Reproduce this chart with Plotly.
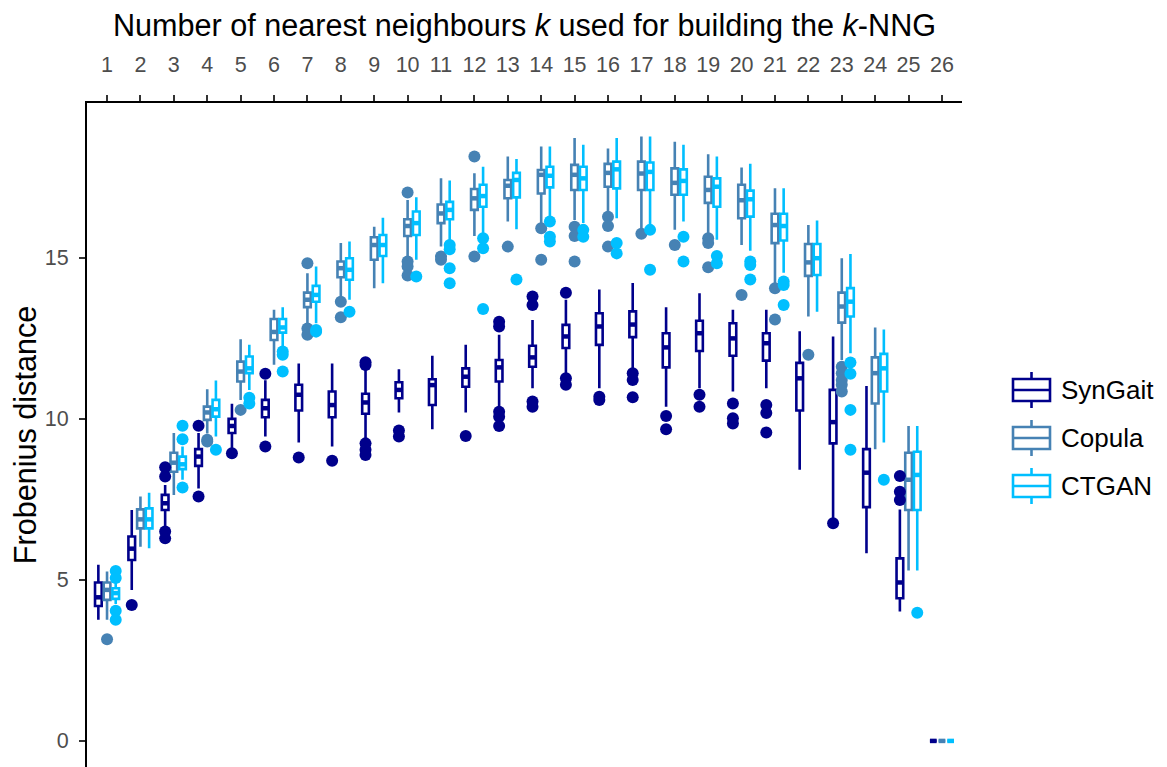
import plotly.graph_objects as go

ks = list(range(1, 27))
series = ["SynGait", "Copula", "CTGAN"]
colors = {"SynGait": "#00008B", "Copula": "#4682B4", "CTGAN": "#00BFFF"}

# SynGait box statistics per k
syn_lo  = [3.76, 4.69, 6.66, 7.84, 9.09, 9.45, 9.27, 9.14, 9.40, 10.20, 9.68, 10.20, 10.33, 10.95, 11.32, 10.95, 11.52, 10.38, 10.95, 10.85, 10.95, 8.42, 6.92, 5.83, 4.02, 0]
syn_q1  = [4.19, 5.62, 7.17, 8.54, 9.56, 10.05, 10.26, 10.05, 10.16, 10.64, 10.43, 11.00, 11.16, 11.62, 12.20, 12.30, 12.54, 11.60, 12.11, 11.96, 11.81, 10.26, 9.24, 7.26, 4.43, 0]
syn_med = [4.46, 5.97, 7.38, 8.83, 9.78, 10.33, 10.75, 10.43, 10.51, 10.90, 11.05, 11.31, 11.60, 11.91, 12.56, 12.87, 12.93, 12.22, 12.66, 12.50, 12.35, 11.26, 9.90, 8.33, 4.92, 0]
syn_q3  = [4.92, 6.35, 7.64, 9.06, 10.00, 10.59, 11.06, 10.85, 10.78, 11.14, 11.23, 11.57, 11.83, 12.27, 12.92, 13.28, 13.34, 12.66, 13.05, 12.97, 12.66, 11.74, 10.90, 9.06, 5.67, 0]
syn_hi  = [5.47, 7.17, 7.95, 9.56, 10.47, 11.20, 11.72, 11.72, 11.52, 11.54, 11.96, 12.30, 12.61, 13.07, 13.70, 14.02, 14.22, 13.47, 13.90, 13.39, 13.39, 12.72, 12.56, 11.02, 7.19, 0]
syn_out_k = [2, 3, 3, 3, 3, 4, 4, 5, 6, 6, 7, 8, 9, 9, 9, 9, 9, 10, 10, 12, 13, 13, 13, 13, 13, 14, 14, 14, 14, 15, 15, 15, 16, 16, 17, 17, 17, 18, 18, 19, 19, 20, 20, 20, 21, 21, 21, 23, 25, 25, 25]
syn_out_v = [4.22, 8.50, 8.21, 6.50, 6.29, 9.79, 7.59, 8.93, 11.40, 9.14, 8.80, 8.70, 11.76, 11.67, 9.24, 9.04, 8.88, 9.64, 9.45, 9.47, 13.02, 12.87, 10.22, 10.07, 9.78, 13.80, 13.54, 10.54, 10.38, 13.92, 11.26, 11.06, 10.69, 10.59, 11.42, 11.21, 10.67, 10.09, 9.68, 10.75, 10.38, 10.48, 10.02, 9.86, 10.43, 10.18, 9.58, 6.76, 8.23, 7.74, 7.48]

# Copula box statistics per k
cop_lo  = [3.76, 6.03, 7.64, 9.55, 10.59, 11.68, 12.97, 13.80, 14.06, 15.04, 15.35, 15.68, 16.13, 16.08, 16.18, 16.38, 15.87, 15.87, 15.66, 15.40, 14.21, 13.18, 11.83, 9.06, 5.29, 0]
cop_q1  = [4.38, 6.60, 8.36, 9.97, 11.16, 12.45, 13.47, 14.40, 14.94, 15.68, 16.08, 16.49, 16.85, 17.00, 17.11, 17.21, 17.11, 16.96, 16.71, 16.23, 15.46, 14.44, 12.99, 10.48, 7.17, 0]
cop_med = [4.69, 6.88, 8.64, 10.20, 11.47, 12.70, 13.70, 14.68, 15.40, 15.99, 16.38, 16.85, 17.24, 17.58, 17.58, 17.64, 17.62, 17.33, 17.11, 16.79, 16.02, 14.86, 13.49, 11.42, 8.11, 0]
cop_q3  = [4.92, 7.19, 8.95, 10.38, 11.78, 13.10, 13.92, 14.89, 15.64, 16.20, 16.66, 17.14, 17.42, 17.73, 17.89, 17.92, 17.99, 17.78, 17.52, 17.27, 16.37, 15.43, 13.92, 11.91, 8.95, 0]
cop_hi  = [5.26, 7.59, 9.56, 10.92, 12.47, 13.39, 14.52, 15.46, 15.97, 16.80, 17.47, 17.63, 18.15, 18.46, 18.72, 18.40, 18.77, 18.61, 18.22, 17.81, 17.16, 16.02, 14.99, 12.84, 9.78, 0]
cop_out_k = [1, 4, 4, 5, 7, 7, 7, 8, 8, 10, 10, 10, 10, 11, 11, 12, 12, 13, 14, 14, 15, 15, 15, 16, 16, 16, 17, 18, 19, 19, 19, 20, 21, 21, 22, 23, 23, 23, 23, 23]
cop_out_v = [3.16, 9.35, 9.30, 10.28, 14.83, 12.81, 12.61, 13.64, 13.16, 17.03, 14.89, 14.73, 14.45, 15.04, 14.94, 18.15, 15.04, 15.35, 15.92, 14.94, 15.97, 15.68, 14.89, 16.28, 15.99, 15.35, 15.75, 15.40, 15.61, 15.46, 14.71, 13.85, 14.06, 13.09, 11.99, 11.62, 11.42, 11.21, 11.06, 10.85]

# CTGAN box statistics per k
ctg_lo  = [4.25, 5.98, 8.11, 9.45, 10.90, 12.25, 12.97, 13.70, 14.21, 14.94, 15.51, 15.77, 15.89, 16.28, 16.08, 16.23, 16.02, 16.13, 15.56, 15.22, 14.54, 13.33, 12.04, 9.27, 5.29, 0]
ctg_q1  = [4.41, 6.60, 8.44, 10.07, 11.42, 12.68, 13.64, 14.32, 15.06, 15.71, 16.20, 16.59, 16.88, 17.19, 17.11, 17.16, 17.11, 16.96, 16.59, 16.28, 15.54, 14.47, 13.18, 10.85, 7.17, 0]
ctg_med = [4.59, 6.88, 8.59, 10.30, 11.57, 12.84, 13.85, 14.63, 15.40, 16.08, 16.49, 16.92, 17.42, 17.55, 17.47, 17.75, 17.67, 17.39, 17.21, 16.82, 15.99, 14.99, 13.64, 11.57, 8.26, 0]
ctg_q3  = [4.74, 7.22, 8.83, 10.59, 11.94, 13.10, 14.13, 14.99, 15.71, 16.44, 16.74, 17.27, 17.64, 17.83, 17.83, 17.99, 17.96, 17.75, 17.47, 17.09, 16.37, 15.43, 14.06, 12.02, 8.98, 0]
ctg_hi  = [4.95, 7.71, 9.14, 11.19, 12.30, 13.47, 14.73, 15.51, 16.25, 16.88, 17.40, 17.83, 18.07, 18.46, 18.51, 18.72, 18.77, 18.51, 18.15, 17.92, 17.16, 16.16, 15.12, 12.78, 9.78, 0]
ctg_out_k = [1, 1, 1, 1, 3, 3, 3, 4, 5, 5, 6, 6, 6, 7, 7, 8, 10, 11, 11, 11, 11, 12, 12, 12, 13, 14, 14, 14, 15, 15, 16, 16, 17, 17, 18, 18, 19, 19, 20, 20, 20, 21, 21, 21, 23, 23, 23, 23, 24, 25]
ctg_out_v = [5.28, 5.06, 4.04, 3.76, 9.79, 9.37, 7.87, 9.04, 10.66, 10.48, 12.09, 11.99, 11.47, 12.76, 12.71, 13.33, 14.42, 15.40, 15.27, 14.68, 14.21, 15.61, 15.30, 13.41, 14.33, 16.13, 15.66, 15.51, 15.87, 15.66, 15.46, 15.14, 15.87, 14.63, 15.66, 14.89, 15.06, 14.83, 14.89, 14.78, 14.33, 14.27, 14.16, 13.54, 11.75, 11.40, 10.28, 9.04, 8.11, 3.98]

stats = {
    "SynGait": (syn_lo, syn_q1, syn_med, syn_q3, syn_hi, syn_out_k, syn_out_v),
    "Copula": (cop_lo, cop_q1, cop_med, cop_q3, cop_hi, cop_out_k, cop_out_v),
    "CTGAN": (ctg_lo, ctg_q1, ctg_med, ctg_q3, ctg_hi, ctg_out_k, ctg_out_v),
}

dodge = {"SynGait": -0.26, "Copula": 0.0, "CTGAN": 0.26}
box_w = 0.2

# page layout (the browser body adds an 8px margin on top/left)
W, H = 1159, 759
ML, MR, MT, MB = 79, 205, 95, 0
PW, PH = W - ML - MR, H - MT - MB

fig = go.Figure()
for s in series:
    lo, q1, med, q3, hi, ok, ov = stats[s]
    c = colors[s]
    xs = [k + dodge[s] for k in ks]
    fig.add_trace(go.Box(
        x=xs, q1=q1, median=med, q3=q3, lowerfence=lo, upperfence=hi,
        name=s, legendgroup=s, showlegend=False, width=box_w, whiskerwidth=0,
        fillcolor="white", line=dict(color=c, width=2.6),
        boxpoints=False, hoverinfo="skip",
    ))
    # thicker median segments (ggplot style)
    mx, my = [], []
    for k, m in zip(ks, med):
        mx += [k + dodge[s] - box_w / 2, k + dodge[s] + box_w / 2, None]
        my += [m, m, None]
    fig.add_trace(go.Scatter(x=mx, y=my, mode="lines", line=dict(color=c, width=4.5),
                             showlegend=False, legendgroup=s, hoverinfo="skip"))
    fig.add_trace(go.Scatter(
        x=[k + dodge[s] for k in ok], y=ov, mode="markers",
        marker=dict(color=c, size=12, line=dict(width=0)),
        showlegend=False, legendgroup=s, hoverinfo="skip",
    ))

# legend drawn as boxplot keys (pixel positions converted to paper coords)
def px_x(p):
    return (p - ML) / PW

def px_y(p):
    return (H - MB - p) / PH

shapes, annotations = [], []
key_x0, key_x1 = 1005, 1042
for i, s in enumerate(series):
    c = colors[s]
    cy = 382 + 48 * i
    xm = (key_x0 + key_x1) / 2
    shapes.append(dict(type="line", xref="paper", yref="paper",
                       x0=px_x(xm), x1=px_x(xm), y0=px_y(cy - 18), y1=px_y(cy + 18),
                       line=dict(color=c, width=2.6)))
    shapes.append(dict(type="rect", xref="paper", yref="paper",
                       x0=px_x(key_x0), x1=px_x(key_x1), y0=px_y(cy - 11), y1=px_y(cy + 11),
                       line=dict(color=c, width=2.6), fillcolor="white"))
    shapes.append(dict(type="line", xref="paper", yref="paper",
                       x0=px_x(key_x0), x1=px_x(key_x1), y0=px_y(cy), y1=px_y(cy),
                       line=dict(color=c, width=2.6)))
    annotations.append(dict(text=s, xref="paper", yref="paper", x=px_x(1051), y=px_y(cy),
                            xanchor="left", yanchor="middle", showarrow=False,
                            font=dict(size=26, color="black")))

font_family = "Liberation Sans, Arial, sans-serif"
fig.update_layout(
    width=W, height=H,
    margin=dict(l=ML, r=MR, t=MT, b=MB, autoexpand=False),
    paper_bgcolor="white", plot_bgcolor="white",
    font=dict(family=font_family, color="black"),
    boxmode="overlay",
    showlegend=False,
    shapes=shapes, annotations=annotations,
    xaxis=dict(
        range=[0.4, 26.6], side="top", automargin=False,
        tickmode="array", tickvals=ks, ticktext=[str(k) for k in ks],
        ticks="outside", ticklen=6, tickwidth=2, tickcolor="#333333",
        ticklabelstandoff=14,
        tickfont=dict(size=21.5, color="#4D4D4D", family=font_family),
        showline=True, linecolor="black", linewidth=2,
        showgrid=False, zeroline=False,
        title=dict(text="Number of nearest neighbours <i>k</i> used for building the <i>k</i>-NNG",
                   font=dict(size=30.6, color="black", family=font_family), standoff=9),
    ),
    yaxis=dict(
        range=[-0.81, 19.81], automargin=False,
        tickmode="array", tickvals=[0, 5, 10, 15],
        ticks="outside", ticklen=6, tickwidth=2, tickcolor="#333333",
        ticklabelstandoff=6,
        tickfont=dict(size=21.5, color="#4D4D4D", family=font_family),
        showline=True, linecolor="black", linewidth=2,
        showgrid=False, zeroline=False,
        title=dict(text="Frobenius distance",
                   font=dict(size=30.6, color="black", family=font_family), standoff=11),
    ),
)

fig.write_html("out.html")
